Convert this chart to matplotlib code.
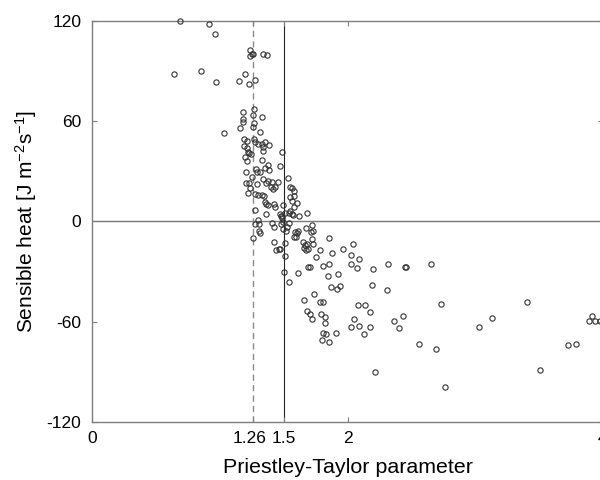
import matplotlib
matplotlib.use("Agg")
import matplotlib.pyplot as plt
import matplotlib.transforms as mtransforms

plt.rcParams['font.family'] = ['Liberation Sans', 'DejaVu Sans']
plt.rcParams['mathtext.fontset'] = 'custom'
plt.rcParams['mathtext.rm'] = 'Liberation Sans'
plt.rcParams['mathtext.it'] = 'Liberation Sans'

# Priestley-Taylor parameter (x) and sensible heat (y)
pt_alpha = [
    0.69, 0.915, 0.964, 0.638, 0.852, 0.972, 1.147, 1.194, 1.228, 1.278,
    1.238, 1.236, 1.262, 1.25, 1.340, 1.371, 1.029,
    1.264, 1.183, 1.257, 1.332, 1.178, 1.178, 1.267, 1.157, 1.257, 1.312,
    1.189, 1.215, 1.267, 1.278, 1.299, 1.327, 1.335, 1.335, 1.353, 1.387,
    1.189, 1.21, 1.22, 1.23, 1.241, 1.199, 1.487, 1.332, 1.21, 1.379,
    1.471, 1.28, 1.293, 1.353, 1.387, 1.205, 1.314, 1.249, 1.335, 1.536,
    1.205, 1.23, 1.293, 1.359, 1.379, 1.411, 1.458, 1.40, 1.43, 1.55,
    1.563, 1.236, 1.577, 1.55, 1.58, 1.563, 1.607, 1.685, 1.419, 1.222,
    1.30, 1.327, 1.348, 1.275, 1.353, 1.361, 1.374, 1.275, 1.427, 1.432,
    1.361, 1.497, 1.471, 1.476, 1.484, 1.49, 1.510, 1.544, 1.575, 1.617,
    1.577, 1.55, 1.563, 1.309, 1.275, 1.406, 1.424, 1.479, 1.497, 1.492,
    1.523, 1.544, 1.518, 1.589, 1.602, 1.614, 1.58, 1.596, 1.675, 1.72,
    1.727, 1.714, 1.257, 1.314, 1.424, 1.51, 1.44, 1.46, 1.47, 1.654,
    1.667, 1.68, 1.66, 1.675, 1.69, 1.72, 1.727, 1.785, 1.857, 1.876,
    1.75, 1.693, 1.706, 1.81, 1.857, 1.51, 1.502, 1.614, 1.847, 1.928,
    1.30, 1.309, 1.545, 1.662, 1.68, 1.706, 1.72, 1.737, 1.785, 1.806,
    1.79, 1.824, 1.824, 1.806, 1.832, 1.80, 1.853, 1.907, 1.962, 2.045,
    2.025, 2.09, 2.025, 2.072, 2.202, 2.32, 2.45, 2.46, 1.868, 1.915,
    1.94, 2.194, 2.312, 2.085, 2.137, 2.174, 2.053, 2.025, 2.088, 2.176,
    2.129, 2.364, 2.404, 2.433, 2.563, 2.218, 2.652, 2.73, 3.404, 3.135,
    3.033, 2.69, 2.765, 3.504, 3.728, 3.79, 3.89, 3.914, 3.94, 3.98,
]
sensible_heat = [
    120, 118, 112, 88.3, 90.2, 83.3, 83.8, 88.3, 81.9, 84.7,
    102.2, 98.6, 99.8, 100, 100.2, 99.4, 53.0,
    67.1, 65.6, 63.9, 62.7, 61.1, 59.5, 58.8, 56, 56.4, 53.6,
    49.4, 48.4, 49.4, 47.4, 46.4, 46.4, 44.4, 42.4, 47.4, 46.0,
    45.4, 44, 41.4, 40.8, 40.5, 38.8, 41.6, 36.9, 36.0, 33.6,
    33.3, 31.3, 29.5, 31.7, 30.9, 29.7, 29.7, 26.5, 25.5, 26.1,
    22.9, 22.9, 22.5, 22.9, 24.1, 23.9, 23.9, 20.9, 20.5, 20.9,
    19.9, 20.1, 18.5, 14.5, 15.5, 12.5, 10.9, 5.2, 19.5, 16.9,
    16.1, 16.1, 15.5, 16.5, 11.5, 10.2, 9.6, 7, 10.2, 8.5,
    4.6, 9.6, 4.2, 3.0, 2.2, 3.5, 5.2, 5.0, 3.6, 3.2,
    8.5, 6.2, 4.6, -1.4, -1.4, -1.0, -3.4, -1.4, -0.4, -4.4,
    -3.4, -1.0, -5.8, -6.4, -7.0, -5.8, -9, -9, -3.8, -1.8,
    -5.4, -6.4, -9.8, -6.8, -12.4, -13, -17.3, -16.5, -16.3, -12.4,
    -14.3, -13.3, -16, -17.3, -16.3, -10.3, -13.3, -16.9, -9.8, -18.9,
    -21.3, -26.9, -26.9, -26.3, -25.3, -20.9, -30.3, -30.9, -32.3, -31.3,
    1.0, -5.8, -36.3, -46.8, -53.2, -55.2, -58.1, -43.6, -48.2, -48.2,
    -55.2, -57.2, -60.8, -66.8, -67.1, -70.7, -71.9, -66.8, -16.5, -13.7,
    -20.3, -22.7, -25.3, -27.9, -28.3, -25.3, -27.3, -27.3, -39.3, -40.2,
    -38.7, -37.8, -40.8, -49.8, -49.8, -54.2, -58.4, -63.3, -62.2, -63.3,
    -67.5, -59.2, -63.5, -56.2, -73.1, -90.1, -25.3, -49.2, -48.4, -57.8,
    -63.3, -75.9, -99, -88.6, -73.9, -73.1, -59.2, -56.2, -59.2, -59.2,
]

x_ticks = [0, 1.26, 1.5, 2, 4]
x_tick_labels = ["0", "1.26", "1.5", "2", "4"]
y_ticks = [-120, -60, 0, 60, 120]
y_tick_labels = ["-120", "-60", "0", "60", "120"]
alpha_eq = 1.26
alpha_pt = 1.5

fig = plt.figure(figsize=(6.0, 4.8), dpi=100)
ax = fig.add_axes([0.1538, 0.1202, 1.0047 - 0.1538, 0.9569 - 0.1202])

ax.axhline(0, color='#7a7a7a', lw=1.0, zorder=1)
ax.axvline(alpha_pt, color='#222222', lw=0.8, zorder=1)
ax.axvline(alpha_eq, color='#8a8a8a', lw=1.0, ls=(0, (4.5, 3)), zorder=1)

ax.plot(pt_alpha, sensible_heat, ls='none', marker='o', ms=3.8,
        mfc='none', mec='#333333', mew=0.8, zorder=3, clip_on=False)

ax.set_xlim(0, 4)
ax.set_ylim(-120, 120)
ax.set_xticks(x_ticks)
ax.set_xticklabels(x_tick_labels)
ax.set_yticks(y_ticks)
ax.set_yticklabels(y_tick_labels)

for s in ax.spines.values():
    s.set_color('#7f7f7f')
    s.set_linewidth(1.0)

ax.tick_params(axis='both', which='both', direction='in', length=3.5,
               width=0.8, color='#7f7f7f', labelsize=12.5,
               top=True, right=True)
ax.tick_params(axis='x', pad=6.5)
ax.tick_params(axis='y', pad=8)

# nudge the crowded "1.26" label slightly left, as in the reference
for lbl in ax.get_xticklabels():
    if lbl.get_text() == "1.26":
        lbl.set_transform(lbl.get_transform() +
                          mtransforms.ScaledTranslation(-4 / 100, 0, fig.dpi_scale_trans))

ax.set_xlabel('Priestley-Taylor parameter', fontsize=15.4, labelpad=8.5)
ax.set_ylabel(r'Sensible heat [J m$^{-2}$s$^{-1}$]', fontsize=15, labelpad=5)

fig.savefig('out.png', dpi=100)
